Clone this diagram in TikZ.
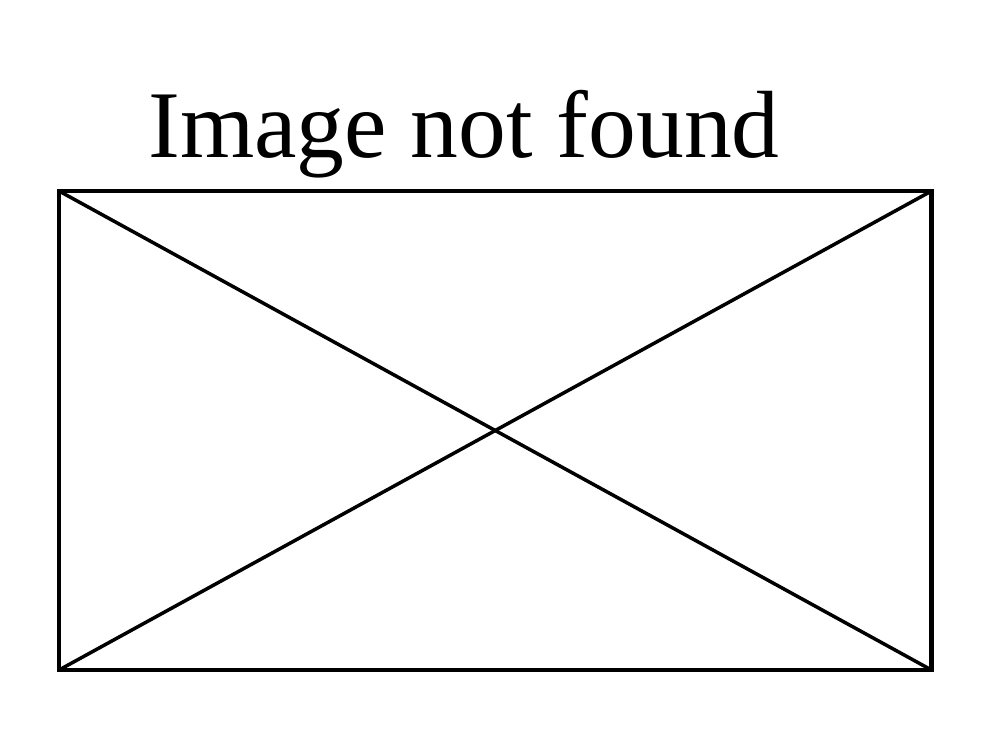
\documentclass[tikz,border=0pt]{standalone}
\usepackage{fontspec}
\setmainfont{Liberation Serif}
\tikzset{
  frame/.style={draw=black, line width=4.5pt},
  cross/.style={draw=black, line width=3.5pt},
  title/.style={inner sep=0pt, outer sep=0pt, anchor=base, font=\fontsize{95.5}{100}\selectfont}
}
\begin{document}
\begin{tikzpicture}[x=1pt, y=-1pt]
  \useasboundingbox (0,0) rectangle (1000,729);
  \fill[white] (0,0) rectangle (1000,729);
  \node[title] (t) at (464,157.3) {Image not found};
  \coordinate (tl) at (59,191);
  \coordinate (tr) at (931.5,191);
  \coordinate (bl) at (59,670);
  \coordinate (br) at (931.5,670);
  \draw[cross] (tl) -- (br);
  \draw[cross] (tr) -- (bl);
  \draw[frame] (tl) rectangle (br);
\end{tikzpicture}
\end{document}
